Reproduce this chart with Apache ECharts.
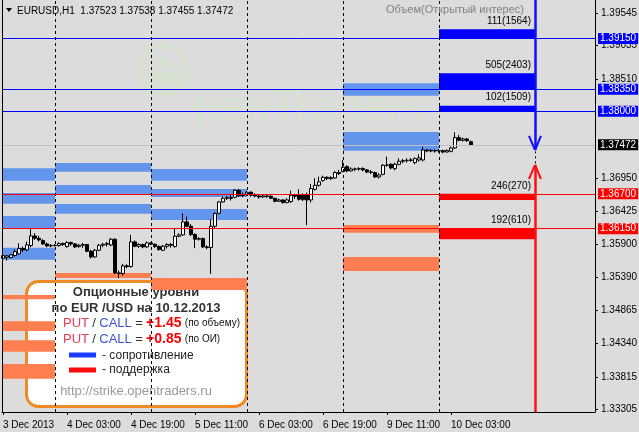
<!DOCTYPE html>
<html><head><meta charset="utf-8">
<script src="https://cdn.jsdelivr.net/npm/echarts@6/dist/echarts.min.js"></script>
<style>html,body{margin:0;padding:0;background:#dcdcdc}#c{width:639px;height:432px}</style>
</head><body><div id="c"></div><script>
// ---------- DATA ----------
const symbolTitle = 'EURUSD,H1  1.37523 1.37538 1.37455 1.37472';
const timeLabels = ['3 Dec 2013','4 Dec 03:00','4 Dec 19:00','5 Dec 11:00','6 Dec 03:00','6 Dec 19:00','9 Dec 11:00','10 Dec 03:00'];
const timeTickBar = [0,16,32,48,64,80,96,112];
const daySeparatorBar = [13,37,61,85,109];
const priceTicks = [1.39545,1.39035,1.38510,1.36950,1.36425,1.35900,1.35390,1.34865,1.34340,1.33815,1.33305];
// H1 bars from 3 Dec 11:00 to 10 Dec 08:00 : [open, high, low, close]
const ohlc = [
[1.35685,1.35748,1.35659,1.35727],[1.35701,1.35738,1.35648,1.35722],[1.35696,1.35754,1.35685,1.35738],[1.35727,1.35827,1.35712,1.35790],
[1.35754,1.35922,1.35738,1.35838],[1.35838,1.35869,1.35785,1.35817],[1.35817,1.35948,1.35796,1.35895],[1.35885,1.36147,1.35859,1.36037],
[1.36037,1.36079,1.35974,1.36000],[1.36000,1.36037,1.35948,1.35974],[1.35964,1.35985,1.35895,1.35911],[1.35911,1.35932,1.35859,1.35880],
[1.35880,1.35911,1.35859,1.35885],[1.35885,1.35906,1.35869,1.35890],[1.35885,1.35937,1.35869,1.35916],[1.35916,1.35932,1.35880,1.35901],
[1.35869,1.35953,1.35853,1.35932],[1.35932,1.35948,1.35880,1.35911],[1.35911,1.35922,1.35848,1.35864],[1.35869,1.35911,1.35853,1.35890],
[1.35890,1.35927,1.35848,1.35901],[1.35901,1.35911,1.35780,1.35796],[1.35796,1.35817,1.35680,1.35706],[1.35706,1.35832,1.35690,1.35811],
[1.35811,1.35911,1.35796,1.35890],[1.35890,1.35927,1.35859,1.35906],[1.35906,1.35943,1.35869,1.35916],[1.35895,1.36006,1.35874,1.35985],
[1.35985,1.36000,1.35439,1.35454],[1.35454,1.35491,1.35370,1.35444],[1.35444,1.35596,1.35407,1.35565],[1.35565,1.35591,1.35528,1.35554],
[1.35554,1.36053,1.35538,1.35943],[1.35943,1.35964,1.35859,1.35874],[1.35874,1.35922,1.35848,1.35901],[1.35901,1.35916,1.35843,1.35864],
[1.35864,1.35948,1.35848,1.35927],[1.35927,1.35937,1.35890,1.35906],[1.35906,1.35916,1.35848,1.35869],[1.35869,1.35890,1.35806,1.35822],
[1.35811,1.35895,1.35796,1.35874],[1.35874,1.35922,1.35838,1.35901],[1.35901,1.35927,1.35853,1.35890],[1.35869,1.36158,1.35853,1.36032],
[1.36032,1.36079,1.36016,1.36053],[1.36053,1.36394,1.36037,1.36258],[1.36258,1.36342,1.36174,1.36189],[1.36189,1.36226,1.36037,1.36058],
[1.36058,1.36079,1.35843,1.35985],[1.35985,1.36016,1.35964,1.35995],[1.35995,1.36011,1.35848,1.35864],[1.35864,1.35890,1.35827,1.35853],
[1.35853,1.36300,1.35439,1.36189],[1.36189,1.36410,1.36163,1.36389],[1.36394,1.36588,1.36378,1.36573],[1.36573,1.36657,1.36562,1.36630],
[1.36630,1.36662,1.36604,1.36641],[1.36641,1.36678,1.36594,1.36630],[1.36646,1.36777,1.36630,1.36756],[1.36756,1.36777,1.36651,1.36672],
[1.36672,1.36720,1.36646,1.36688],[1.36688,1.36746,1.36667,1.36725],[1.36725,1.36741,1.36657,1.36678],[1.36678,1.36709,1.36646,1.36667],
[1.36667,1.36683,1.36625,1.36651],[1.36651,1.36688,1.36636,1.36667],[1.36667,1.36683,1.36636,1.36657],[1.36662,1.36678,1.36620,1.36630],
[1.36630,1.36641,1.36567,1.36583],[1.36583,1.36625,1.36573,1.36604],[1.36604,1.36615,1.36546,1.36562],[1.36562,1.36630,1.36551,1.36604],
[1.36578,1.36751,1.36557,1.36678],[1.36678,1.36699,1.36620,1.36662],[1.36683,1.36772,1.36594,1.36615],[1.36683,1.36709,1.36588,1.36609],
[1.36683,1.36720,1.36205,1.36604],[1.36604,1.36856,1.36562,1.36783],[1.36772,1.36945,1.36751,1.36835],[1.36835,1.36972,1.36814,1.36888],
[1.36908,1.36987,1.36893,1.36961],[1.36961,1.36977,1.36919,1.36940],[1.36940,1.36977,1.36919,1.36956],[1.36951,1.37061,1.36935,1.37035],
[1.37035,1.37077,1.36998,1.37019],[1.37050,1.37234,1.37040,1.37119],[1.37129,1.37150,1.37040,1.37061],[1.37061,1.37119,1.37050,1.37092],
[1.37092,1.37113,1.37056,1.37087],[1.37092,1.37119,1.37066,1.37098],[1.37098,1.37119,1.37056,1.37077],[1.37077,1.37092,1.37024,1.37045],
[1.37045,1.37077,1.37014,1.37040],[1.37035,1.37050,1.36951,1.36966],[1.36966,1.37024,1.36940,1.36998],[1.37008,1.37171,1.36993,1.37150],
[1.37150,1.37287,1.37129,1.37155],[1.37166,1.37182,1.37087,1.37108],[1.37098,1.37192,1.37071,1.37166],[1.37166,1.37260,1.37150,1.37213],
[1.37213,1.37250,1.37182,1.37224],[1.37224,1.37260,1.37192,1.37229],[1.37229,1.37266,1.37203,1.37234],[1.37192,1.37276,1.37166,1.37255],
[1.37234,1.37323,1.37208,1.37266],[1.37234,1.37444,1.37213,1.37392],[1.37392,1.37407,1.37355,1.37376],[1.37376,1.37407,1.37355,1.37381],
[1.37381,1.37402,1.37350,1.37376],[1.37376,1.37402,1.37350,1.37381],[1.37381,1.37397,1.37339,1.37360],[1.37360,1.37402,1.37350,1.37381],
[1.37371,1.37444,1.37355,1.37423],[1.37423,1.37670,1.37407,1.37586],[1.37586,1.37628,1.37528,1.37544],[1.37544,1.37586,1.37523,1.37565],
[1.37565,1.37581,1.37518,1.37539],[1.37523,1.37538,1.37455,1.37472]
];
const bidPrice = 1.37472;
// previous-day option bands: [fromBar, toBar, lowPrice, highPrice]
const pastResistance = [
 [0,13,1.36907,1.37103],[0,13,1.36545,1.36713],[0,13,1.36162,1.36351],[0,13,1.35662,1.35851],
 [13,37,1.37049,1.37186],[13,37,1.36698,1.36839],[13,37,1.36387,1.36540],
 [37,61,1.36907,1.37092],[37,61,1.36650,1.36776],[37,61,1.36288,1.36461],
 [85,109,1.38247,1.38442],[85,109,1.37380,1.37675]
];
const pastSupport = [
 [0,13,1.35038,1.35106],[0,13,1.34539,1.34692],[0,13,1.34213,1.34392],[0,13,1.33787,1.34019],
 [13,37,1.35374,1.35453],[37,61,1.35185,1.35374],
 [85,109,1.36088,1.36209],[85,109,1.35484,1.35705]
];
// today's option levels (10.12.2013)
const levelPrice = [1.39150,1.38350,1.38000,1.36700,1.36150];
const levelEdge  = [1.39293,1.38600,1.38089,1.36603,1.35984];
const levelText  = ['111(1564)','505(2403)','102(1509)','246(270)','192(610)'];
const levelIsCall = [true,true,true,false,false];
const levelFromBar = 109, levelToBar = 133;
// direction arrows: [tipPrice, wingPrice]
const arrowDown = [1.37391, 1.37612];
const arrowUp = [1.37155, 1.36934];
const arrowGap = [1.37370, 1.37180];
const putCallVolume = '+1.45', putCallOI = '+0.85';

// ---------- CHART ----------
const SANS = "'Liberation Sans',Arial,sans-serif";
const X_MIN = -0.25, X_MAX = 148, Y_MIN = 1.33262, Y_MAX = 1.39755;
const C_BLUE = '#0000ff', C_RED = '#ff0000', C_PAST_R = '#6495ed', C_PAST_S = '#ff7f50';

const areas = [];
pastResistance.forEach(b => areas.push([{coord:[b[0], b[3]], itemStyle:{color:C_PAST_R}}, {coord:[b[1], b[2]]}]));
pastSupport.forEach(b => areas.push([{coord:[b[0], b[3]], itemStyle:{color:C_PAST_S}}, {coord:[b[1], b[2]]}]));
levelPrice.forEach((p, k) => areas.push([
  {coord:[levelFromBar, Math.max(p, levelEdge[k])], itemStyle:{color: levelIsCall[k] ? C_BLUE : C_RED},
   label:{show:true, position:'insideTopRight', distance:0, offset:[-4,-13], formatter: levelText[k],
          color:'#000', fontSize:10, fontFamily:SANS}},
  {coord:[levelToBar, Math.min(p, levelEdge[k])]}
]));

function tag(bg, p){ return {show:true, position:'end', distance:3, backgroundColor:bg, color:'#fff',
  padding:[1,2,0,2], fontSize:10, lineHeight:10, fontFamily:SANS, formatter: p.toFixed(5)}; }

const hLines = levelPrice.map((p, k) => ({yAxis:p, lineStyle:{color: levelIsCall[k] ? C_BLUE : C_RED, width:1, type:'solid'},
  label: tag(levelIsCall[k] ? C_BLUE : C_RED, p)}));
hLines.unshift({yAxis:bidPrice, lineStyle:{color:'#c0c0c0', width:1, type:'solid'}, label: tag('#000', bidPrice)});
const sepLines = daySeparatorBar.map(b => ({xAxis:b, lineStyle:{color:'#000', width:1, type:[3,3]}, label:{show:false}}));

const ax = levelToBar;
const S = 'solid';
const arrowLines = [
  [{coord:[ax, Y_MAX], lineStyle:{color:'#1010ff', width:2.5, type:S}}, {coord:[ax, arrowDown[0]]}],
  [{coord:[ax-1.5, arrowDown[1]], lineStyle:{color:'#1010ff', width:2, type:S}}, {coord:[ax, arrowDown[0]]}],
  [{coord:[ax+1.5, arrowDown[1]], lineStyle:{color:'#1010ff', width:2, type:S}}, {coord:[ax, arrowDown[0]]}],
  [{coord:[ax, Y_MIN], lineStyle:{color:'#ff1010', width:2.5, type:S}}, {coord:[ax, arrowUp[0]]}],
  [{coord:[ax-1.5, arrowUp[1]], lineStyle:{color:'#ff1010', width:2, type:S}}, {coord:[ax, arrowUp[0]]}],
  [{coord:[ax+1.5, arrowUp[1]], lineStyle:{color:'#ff1010', width:2, type:S}}, {coord:[ax, arrowUp[0]]}],
  [{coord:[ax, arrowGap[0]], lineStyle:{color:'#000', width:1, type:[2,3]}}, {coord:[ax, arrowGap[1]]}]
];

const option = {
  backgroundColor:'#dcdcdc', animation:false,
  grid:{left:2, right:44, top:0, bottom:20, containLabel:false, outerBoundsMode:'none'},
  xAxis:{type:'value', min:X_MIN, max:X_MAX, splitLine:{show:false},
    axisLine:{show:true, onZero:false, lineStyle:{color:'#000', width:1}},
    axisTick:{show:true, customValues:timeTickBar, length:3, lineStyle:{color:'#000'}},
    axisLabel:{customValues:timeTickBar, formatter: v => timeLabels[timeTickBar.indexOf(v)], align:'left',
      margin:8, color:'#000', fontSize:10, fontFamily:SANS}},
  yAxis:{type:'value', position:'right', min:Y_MIN, max:Y_MAX, splitLine:{show:false},
    axisLine:{show:true, onZero:false, lineStyle:{color:'#000', width:1}},
    axisTick:{show:true, customValues:priceTicks, length:3, lineStyle:{color:'#000'}},
    axisLabel:{customValues:priceTicks, formatter: v => v.toFixed(5), margin:6, color:'#000', fontSize:10, fontFamily:SANS}},
  series:[
    {type:'line', name:'bands', data:[], z:1, silent:true,
     markArea:{silent:true, data:areas}},
    {type:'line', name:'levels', data:[], z:2, silent:true,
     markLine:{silent:true, precision:5, symbol:['none','none'], animation:false, data: hLines.concat(sepLines)}},
    {type:'candlestick', name:'EURUSD', z:3, barWidth:3,
     data: ohlc.map((d, i) => [i, d[0], d[3], d[2], d[1]]), encode:{x:0, y:[1,2,3,4]},
     itemStyle:{color:'#ffffff', color0:'#000000', borderColor:'#000000', borderColor0:'#000000', borderWidth:1}},
    {type:'line', name:'arrows', data:[], z:4, silent:true,
     markLine:{silent:true, precision:5, symbol:['none','none'], animation:false, label:{show:false}, data: arrowLines}}
  ],
  graphic:[
    // watermark
    {type:'group', z:0, silent:true, children:[
      {type:'circle', shape:{cx:163, cy:70, r:24}, style:{fill:'none', stroke:'rgba(210,230,196,0.55)', lineWidth:5}},
      {type:'circle', shape:{cx:163, cy:62, r:5}, style:{fill:'rgba(210,230,196,0.5)'}},
      {type:'circle', shape:{cx:152, cy:66, r:4}, style:{fill:'rgba(210,230,196,0.5)'}},
      {type:'circle', shape:{cx:174, cy:66, r:4}, style:{fill:'rgba(210,230,196,0.5)'}},
      {type:'rect', shape:{x:146, y:72, width:34, height:14, r:6}, style:{fill:'rgba(210,230,196,0.5)'}},
      {type:'text', style:{x:193, y:86, text:'penTraders', font:'46px '+SANS, fill:'rgba(210,230,196,0.5)', textVerticalAlign:'alphabetic'}}
    ]},
    {type:'line', z:50, silent:true, shape:{x1:2.5, y1:0, x2:2.5, y2:412}, style:{stroke:'#000', lineWidth:1}},
    {type:'polygon', z:50, silent:true, shape:{points:[[6,8],[12,8],[9,12]]}, style:{fill:'#000'}},
    {type:'text', z:50, silent:true, style:{x:17, y:11, text:symbolTitle, font:'10px '+SANS, fill:'#000', textVerticalAlign:'middle'}},
    {type:'text', z:50, silent:true, style:{x:386, y:10, text:'Объем(Открытый интерес)', font:'11px '+SANS, fill:'#808080', textVerticalAlign:'middle'}},
    // info box
    {type:'group', z:100, silent:true, children:[
      {type:'rect', shape:{x:26.5, y:281.5, width:220, height:125, r:12}, style:{fill:'#ffffff', stroke:'#f08a24', lineWidth:3}},
      {type:'text', style:{x:136, y:292, text:'Опционные уровни', font:'bold 13px '+SANS, fill:'#333', textAlign:'center', textVerticalAlign:'middle'}},
      {type:'text', style:{x:136, y:308, text:'по EUR /USD на 10.12.2013', font:'bold 13px '+SANS, fill:'#333', textAlign:'center', textVerticalAlign:'middle'}},
      {type:'text', style:{x:63, y:323, textVerticalAlign:'middle',
        text:'{p|PUT} {s|/} {c|CALL} {s|=} {v|'+putCallVolume+'} {m|(по объему)}',
        rich:{p:{fill:'#e04050', font:'13px '+SANS}, s:{fill:'#333', font:'13px '+SANS}, c:{fill:'#3a55d0', font:'13px '+SANS},
              v:{fill:'#ff0000', font:'bold 14px '+SANS}, m:{fill:'#111', font:'10px '+SANS}}}},
      {type:'text', style:{x:63, y:339, textVerticalAlign:'middle',
        text:'{p|PUT} {s|/} {c|CALL} {s|=} {v|'+putCallOI+'} {m|(по ОИ)}',
        rich:{p:{fill:'#e04050', font:'13px '+SANS}, s:{fill:'#333', font:'13px '+SANS}, c:{fill:'#3a55d0', font:'13px '+SANS},
              v:{fill:'#ff0000', font:'bold 14px '+SANS}, m:{fill:'#111', font:'10px '+SANS}}}},
      {type:'rect', shape:{x:69, y:352.5, width:27, height:5}, style:{fill:'#1a3cff'}},
      {type:'text', style:{x:102, y:356, text:'- сопротивление', font:'12px '+SANS, fill:'#222', textVerticalAlign:'middle'}},
      {type:'rect', shape:{x:69, y:367.5, width:27, height:5}, style:{fill:'#ff0a0a'}},
      {type:'text', style:{x:102, y:370, text:'- поддержка', font:'12px '+SANS, fill:'#222', textVerticalAlign:'middle'}},
      {type:'text', style:{x:136, y:391, text:'http://strike.opentraders.ru', font:'13px '+SANS, fill:'#999', textAlign:'center', textVerticalAlign:'middle'}}
    ]}
  ]
};
const chart = echarts.init(document.getElementById('c'), null, {renderer:'canvas'});
chart.setOption(option);
</script></body></html>
